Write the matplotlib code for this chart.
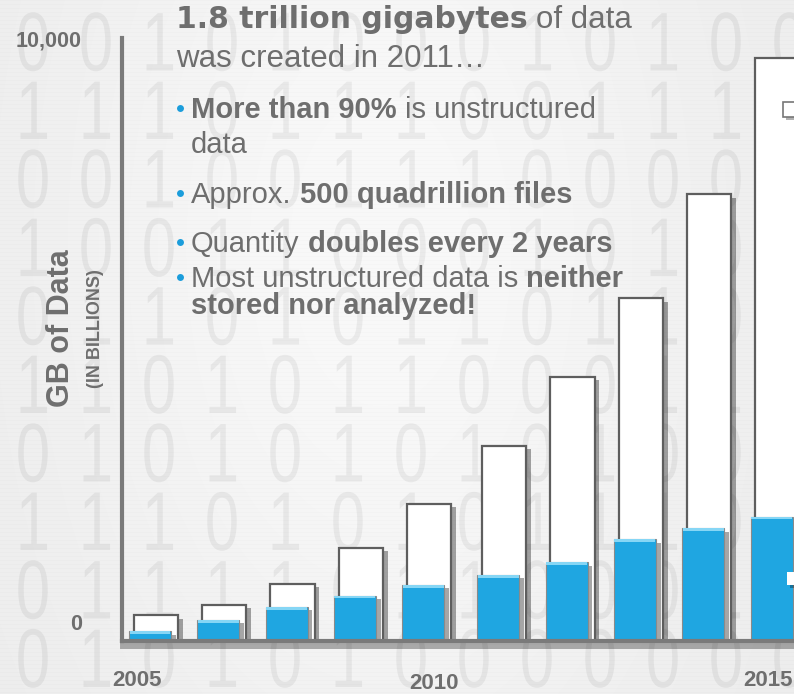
import numpy as np
import matplotlib
matplotlib.use('Agg')
import matplotlib.pyplot as plt
import matplotlib.patheffects as pe
from matplotlib.patches import Rectangle
from matplotlib.transforms import Affine2D

plt.rcParams['font.family'] = ['Liberation Sans', 'DejaVu Sans']

# values (GB, in billions)
bar_years = [2005, 2006, 2007, 2008, 2009, 2010, 2011, 2012, 2013, 2014]
white_gb = [430, 600, 950, 1545, 2275, 3240, 4385, 5680, 7410, 9675]
blue_gb = [160, 350, 565, 750, 930, 1095, 1305, 1685, 1870, 2060]

y_ticks = [0, 10000]
y_tick_labels = ['0', '10,000']
x_tick_labels = ['2005', '2010', '2015']

headline = [("1.8 trillion gigabytes", 'heavy'), (" of data", 'title')]
subline = [("was created in 2011\u2026", 'title')]
bullets = [
    [("More than 90%", 'bold'), (" is unstructured", 'reg')],
    [("data", 'reg')],
    [("Approx.", 'reg'), (" 500 quadrillion files", 'bold')],
    [("Quantity", 'reg'), (" doubles every 2 years", 'bold')],
    [("Most unstructured data is", 'reg'), (" neither", 'bold')],
    [("stored nor analyzed!", 'bold')],
]
bullet_has_dot = [True, False, True, True, True, False]

# background binary pattern
digit_rows = [
    "0010100010100",
    "1110111001110",
    "0010011100000",
    "1001100010100",
    "0110101101101",
    "1101011000110",
    "0101010101000",
    "1110101011100",
    "0111101100010",
    "0101010000000",
]

TXT = '#6e6e6e'
BLUE = '#1fa6e1'
W, H = 794, 694


def fx(px):
    return px / W


def fy(py):
    return 1 - py / H


fig = plt.figure(figsize=(W / 100, H / 100), dpi=100)

# background: soft gray with scan lines and faint digits
bg = fig.add_axes([0, 0, 1, 1], zorder=0)
xx = np.arange(W)[None, :]
yy = np.arange(H)[:, None]
shade = 236 + 13 * np.exp(-((xx - 380) / 320.0) ** 2) * np.exp(-((yy - 250) / 550.0) ** 2)
shade = shade - 3 * (yy % 4 == 0)
img = np.clip(shade, 0, 255) / 255.0
bg.imshow(np.dstack([img, img, img]), extent=[0, W, H, 0], aspect='auto')
bg.set_xlim(0, W)
bg.set_ylim(H, 0)
bg.axis('off')


class Squeeze(pe.AbstractPathEffect):
    """narrow the glyphs horizontally around a given x (bg data coords)"""

    def __init__(self, cx, sx):
        super().__init__()
        self.cx, self.sx = cx, sx

    def draw_path(self, renderer, gc, tpath, affine, rgbFace=None):
        c = bg.transData.transform((self.cx, 0))[0]
        sq = Affine2D().translate(-c, 0).scale(self.sx, 1).translate(c, 0)
        renderer.draw_path(gc, tpath, affine + sq, rgbFace)


for r, row in enumerate(digit_rows):
    for c, ch in enumerate(row):
        cx = 33 + 63 * c
        bg.text(cx, 40 + 68.5 * r, ch, ha='center', va='center_baseline',
                fontsize=60, color=(0, 0, 0, 0.055),
                path_effects=[Squeeze(cx, 0.74)])

# chart axes
ax = fig.add_axes([fx(122), fy(641), (800 - 122) / W, (641 - 38) / H], zorder=1)
ax.patch.set_alpha(0)
px_unit = 68.3
ax.set_xlim((122 - 150) / px_unit, (800 - 150) / px_unit)
ax.set_ylim(0, 10000)

n = len(bar_years)
idx = np.arange(n)
x = idx + np.where(idx >= 5, 0.1, 0.0)

shadow = [pe.SimplePatchShadow(offset=(3.5, -2.5), shadow_rgbFace='k', alpha=0.35), pe.Normal()]
ax.bar(x + 0.085, white_gb, width=0.65, color='white', edgecolor='#5e5e5e',
       linewidth=1.6, zorder=2, path_effects=shadow)
ax.bar(x, blue_gb, width=0.615, color=BLUE, edgecolor='#8a8a8a',
       linewidth=0.8, zorder=3, path_effects=shadow)
hl = 45
ax.bar(x, [hl] * n, bottom=np.array(blue_gb) - hl, width=0.6, color='#86d6f5',
       linewidth=0, zorder=4)

for s in ['top', 'right']:
    ax.spines[s].set_visible(False)
for s in ['left', 'bottom']:
    ax.spines[s].set_linewidth(3)
    ax.spines[s].set_color('#7a7a7a')
    ax.spines[s].set_zorder(5)
ax.spines['bottom'].set_path_effects(
    [pe.SimpleLineShadow(offset=(1, -3), shadow_color='k', alpha=0.3, linewidth=5), pe.Normal()])
ax.set_xticks([])
ax.set_yticks([])

# axis labels
for v, lab, dy in zip(y_ticks, y_tick_labels, [19, 0]):
    ax.annotate(lab, xy=(0, v), xycoords=('axes fraction', 'data'), xytext=(-40, dy),
                textcoords='offset pixels', ha='right', va='center_baseline',
                fontsize=15.5, weight='bold', color=TXT)
for xpos, lab, dy in zip([-0.19, 4.16, 9.05], x_tick_labels, [37, 40, 37]):
    ax.annotate(lab, xy=(xpos, 0), xycoords=('data', 'axes fraction'), xytext=(0, -dy),
                textcoords='offset pixels', ha='center', va='center_baseline',
                fontsize=16, weight='bold', color=TXT)

fig.text(fx(61), fy(328), 'GB of Data', rotation=90, ha='center', va='center',
         fontsize=22, weight='bold', color=TXT)
fig.text(fx(95), fy(329), '(IN BILLIONS)', rotation=90, ha='center', va='center',
         fontsize=13, weight='bold', color=TXT)

# text block
styles = {
    'heavy': dict(family='DejaVu Sans', weight='bold', size=21.5, color=TXT),
    'title': dict(size=22.5, color=TXT),
    'reg': dict(size=21, color=TXT),
    'bold': dict(size=21, weight='bold', color=TXT),
}
renderer = fig.canvas.get_renderer()


def width_of(s, kw):
    t = fig.text(0, 0, s, **kw)
    w = t.get_window_extent(renderer).width
    t.remove()
    return w


def rich(x0, y0, parts):
    xc = x0
    for s, style in parts:
        kw = styles[style]
        lead = len(s) - len(s.lstrip(' '))
        if lead:
            xc += lead * (width_of('a a', kw) - width_of('aa', kw))
        t = fig.text(fx(xc), fy(y0), s.strip(), ha='left', va='baseline', **kw)
        xc += t.get_window_extent(renderer).width


rich(176, 28, headline)
rich(176, 67, subline)
for parts, dot, base in zip(bullets, bullet_has_dot, [118, 153, 203, 252, 287, 314]):
    rich(191, base, parts)
    if dot:
        bg.plot(180, base - 10, 'o', ms=5, color='#1b9ddb', mec='none')

# legend keys cut by the right edge
key_shadow = [pe.SimplePatchShadow(offset=(2, -2), shadow_rgbFace='k', alpha=0.3), pe.Normal()]
fig.add_artist(Rectangle((fx(783), fy(117)), 20 / W, 15 / H, transform=fig.transFigure,
                         facecolor='white', edgecolor='#777777', lw=1.2, zorder=6,
                         path_effects=key_shadow))
fig.add_artist(Rectangle((fx(787), fy(585)), 20 / W, 13 / H, transform=fig.transFigure,
                         facecolor='white', edgecolor='none', zorder=6,
                         path_effects=key_shadow))

fig.savefig('out.png', dpi=100)
